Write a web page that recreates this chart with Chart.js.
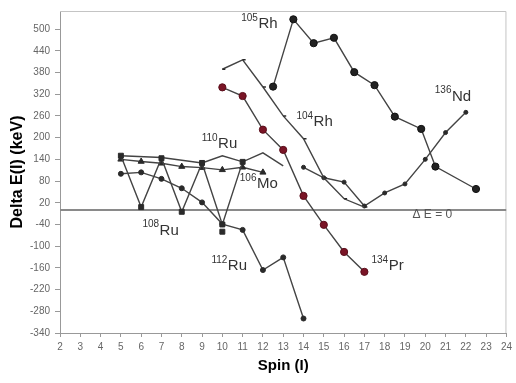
<!DOCTYPE html>
<html>
<head>
<meta charset="utf-8">
<script src="https://cdn.jsdelivr.net/npm/chart.js@4.4.1/dist/chart.umd.min.js"></script>
<style>
  html, body { margin: 0; padding: 0; background: #fff; }
  #wrap { width: 516px; height: 383px; }
</style>
</head>
<body>
<div id="wrap"><canvas id="deltaChart" width="516" height="383"></canvas></div>
<script>
// spin values and Delta E(I) in keV
const ru108Spin = [5, 6, 7, 8, 9, 10, 11];
const ru108Delta = [150, 8, 143, -5, 130, -40, 133];
const ru108LoneSpin = [10];
const ru108LoneDelta = [-60];

const ru110Spin = [5, 7, 9, 10, 11, 12, 13];
const ru110Delta = [150, 145, 130, 150, 133, 158, 122];

const mo106Spin = [5, 6, 7, 8, 9, 10, 11, 12];
const mo106Delta = [140, 134, 129, 120, 117, 111, 118, 104];

const ru112Spin = [5, 6, 7, 8, 9, 10, 11, 12, 13, 14];
const ru112Delta = [100, 104, 86, 60, 21, -39, -55, -166, -131, -300];

const rh104Spin = [10, 11, 12, 13, 14, 15, 16, 17];
const rh104Delta = [389, 415, 340, 260, 197, 89, 31, 8];

const rh105Spin = [12.5, 13.5, 14.5, 15.5, 16.5, 17.5, 18.5, 19.8, 20.5, 22.5];
const rh105Delta = [341, 527, 461, 476, 381, 345, 258, 224, 120, 58];

const pr134Spin = [10, 11, 12, 13, 14, 15, 16, 17];
const pr134Delta = [339, 315, 222, 166, 39, -41, -116, -171];

const nd136Spin = [14, 15, 16, 17, 18, 19, 20, 21, 22];
const nd136Delta = [118, 89, 77, 11, 47, 72, 140, 214, 270];

const zeroSpin = [2, 24];
const zeroDelta = [0, 0];

const yTicks = [-340, -280, -220, -160, -100, -40, 20, 80, 140, 200, 260, 320, 380, 440, 500];

// text labels on the plot: [superscript, symbol, spin, keV]
const nuclideLabels = [
    ['105', 'Rh', 10.93, 514],
    ['104', 'Rh', 13.65, 243],
    ['136', 'Nd', 20.47, 314],
    ['110', 'Ru', 8.98, 183],
    ['106', 'Mo', 10.86, 72],
    ['108', 'Ru', 6.06, -57],
    ['112', 'Ru', 9.46, -155],
    ['134', 'Pr', 17.35, -155]
];

const FONT = "'Liberation Sans', Arial, sans-serif";
const LINE = '#444';

function pts(xs, ys) {
    return xs.map((x, i) => ({ x: x, y: ys[i] }));
}

function series(label, xs, ys, style) {
    return Object.assign({
        label: label,
        data: pts(xs, ys),
        showLine: true,
        borderColor: LINE,
        borderWidth: 1.4,
        backgroundColor: '#2a2a2a',
        pointBorderColor: '#2a2a2a',
        pointBorderWidth: 1,
        pointRadius: 2,
        pointHoverRadius: 2
    }, style);
}

// plot frame (top and right edges)
const framePlugin = {
    id: 'frame',
    beforeDatasetsDraw(chart) {
        const a = chart.chartArea;
        const c = chart.ctx;
        c.save();
        c.strokeStyle = '#c4c4c4';
        c.lineWidth = 1;
        c.beginPath();
        c.moveTo(a.left, a.top + 0.5);
        c.lineTo(a.right - 0.5, a.top + 0.5);
        c.lineTo(a.right - 0.5, a.bottom);
        c.stroke();
        c.restore();
    }
};

const labelPlugin = {
    id: 'nuclideLabels',
    afterDatasetsDraw(chart) {
        const c = chart.ctx;
        const xs = chart.scales.x;
        const ys = chart.scales.y;
        c.save();
        c.fillStyle = '#333';
        c.textBaseline = 'middle';
        c.textAlign = 'left';
        nuclideLabels.forEach(l => {
            const px = xs.getPixelForValue(l[2]);
            const py = ys.getPixelForValue(l[3]);
            c.font = '10px ' + FONT;
            c.fillText(l[0], px, py - 6);
            const w = c.measureText(l[0]).width;
            c.font = '15px ' + FONT;
            c.fillText(l[1], px + w + 0.5, py);
        });
        // Delta E = 0 marker text
        c.fillStyle = '#555';
        c.font = '12px ' + FONT;
        c.fillText('\u0394 E = 0', xs.getPixelForValue(19.37), ys.getPixelForValue(-14));
        c.restore();
    }
};

const ctx = document.getElementById('deltaChart');

new Chart(ctx, {
    type: 'scatter',
    data: {
        datasets: [
            series('108Ru', ru108Spin, ru108Delta, { pointStyle: 'rect', pointRadius: 3.5 }),
            series('108Ru lone', ru108LoneSpin, ru108LoneDelta, { pointStyle: 'rect', pointRadius: 3.5, showLine: false }),
            series('110Ru', ru110Spin, ru110Delta, { pointRadius: 0 }),
            series('106Mo', mo106Spin, mo106Delta, { pointStyle: 'triangle', pointRadius: 3.5 }),
            series('112Ru', ru112Spin, ru112Delta, { pointRadius: 2.5 }),
            series('104Rh', rh104Spin, rh104Delta, { pointStyle: 'dash', pointRadius: 3, pointBorderWidth: 1.5 }),
            series('105Rh', rh105Spin, rh105Delta, { pointRadius: 3.6, backgroundColor: '#222', pointBorderColor: '#111' }),
            series('134Pr', pr134Spin, pr134Delta, { pointRadius: 3.6, backgroundColor: '#7a1526', pointBorderColor: '#5a0d1a' }),
            series('136Nd', nd136Spin, nd136Delta, { pointRadius: 2 }),
            series('zero', zeroSpin, zeroDelta, { borderColor: '#8a8a8a', borderWidth: 2.2, pointRadius: 0 })
        ]
    },
    options: {
        responsive: false,
        animation: false,
        devicePixelRatio: 1,
        layout: {
            padding: { left: 0, right: 9, top: 7, bottom: 0 }
        },
        plugins: {
            legend: { display: false },
            tooltip: { enabled: false }
        },
        scales: {
            x: {
                type: 'linear',
                min: 2,
                max: 24,
                afterFit: (scale) => { scale.height = 50; },
                ticks: {
                    stepSize: 1,
                    autoSkip: false,
                    maxRotation: 0,
                    padding: 4,
                    color: '#666',
                    font: { family: FONT, size: 10 }
                },
                grid: {
                    drawOnChartArea: false,
                    drawTicks: true,
                    tickLength: 4,
                    color: '#999'
                },
                border: { display: true, color: '#999', width: 1 },
                title: {
                    display: true,
                    text: 'Spin (I)',
                    color: '#000',
                    padding: { top: 0, bottom: 8 },
                    font: { family: FONT, size: 15, weight: 'bold' }
                }
            },
            y: {
                type: 'linear',
                min: -340,
                max: 550,
                afterFit: (scale) => { scale.width = 60; },
                afterBuildTicks: (scale) => {
                    scale.ticks = yTicks.map(v => ({ value: v }));
                },
                ticks: {
                    padding: 5,
                    color: '#666',
                    font: { family: FONT, size: 10 }
                },
                grid: {
                    drawOnChartArea: false,
                    drawTicks: true,
                    tickLength: 5,
                    color: '#999'
                },
                border: { display: true, color: '#999', width: 1 },
                title: {
                    display: true,
                    text: 'Delta E(I) (keV)',
                    color: '#000',
                    padding: { top: 8, bottom: 0 },
                    font: { family: FONT, size: 16, weight: 'bold' }
                }
            }
        }
    },
    plugins: [framePlugin, labelPlugin]
});
</script>
</body>
</html>
